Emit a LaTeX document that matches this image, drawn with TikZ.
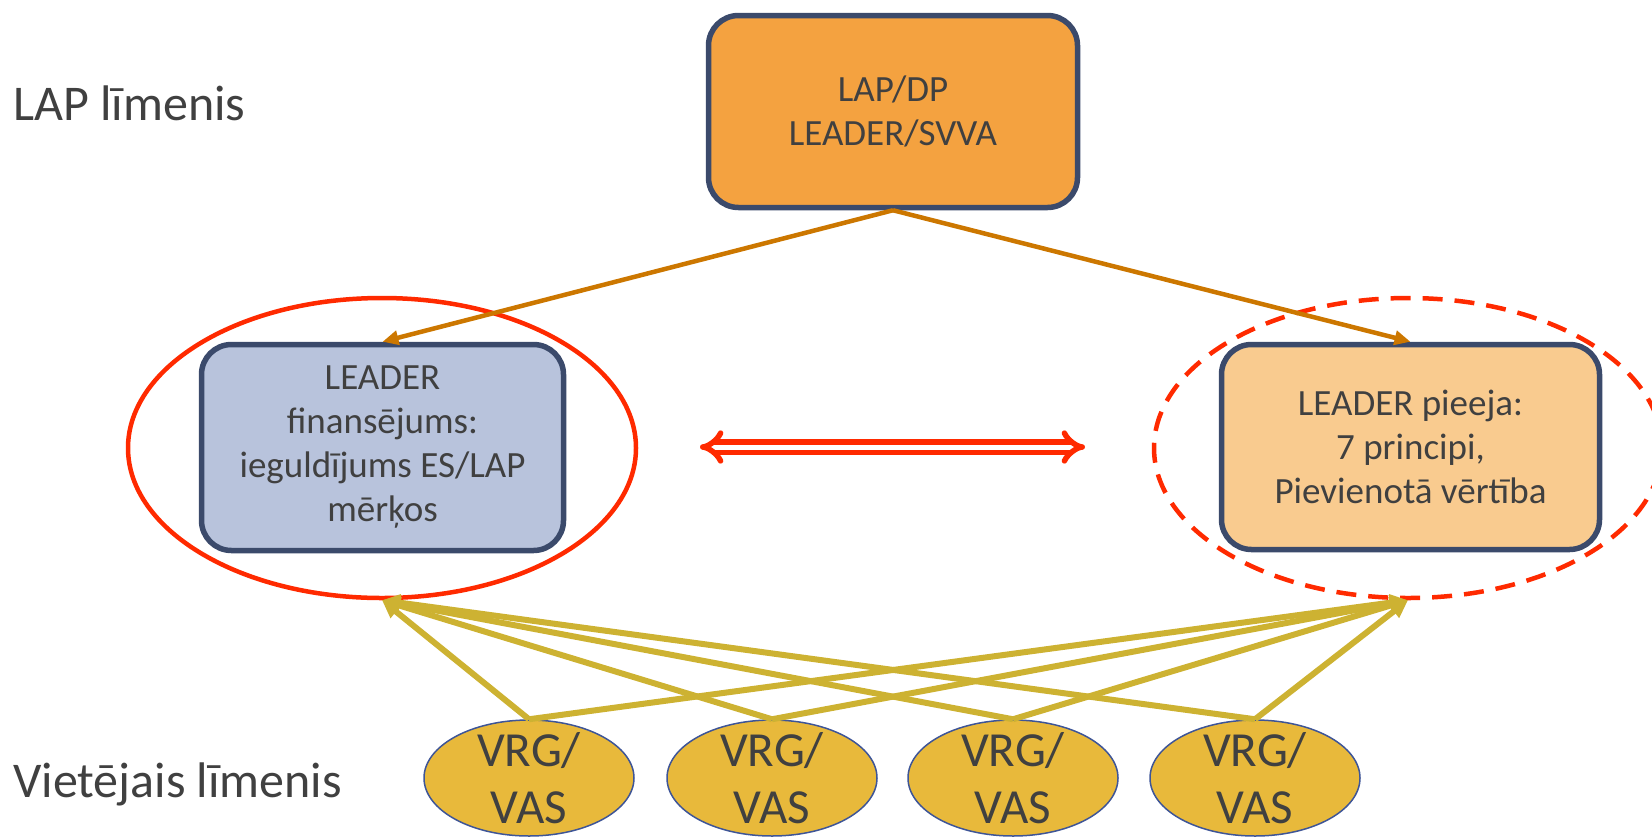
\documentclass[tikz,border=0pt]{standalone}
\usepackage{fontspec}
\setmainfont{Carlito}
\usetikzlibrary{shapes.geometric,arrows.meta}

\definecolor{lapOrange}{HTML}{F4A240}
\definecolor{fundBlue}{HTML}{B8C3DC}
\definecolor{apprPeach}{HTML}{F9CB8F}
\definecolor{boxLine}{HTML}{3B4A6B}
\definecolor{ringRed}{HTML}{FF2A00}
\definecolor{arrowOrange}{HTML}{CC7700}
\definecolor{arrowGold}{HTML}{CDB232}
\definecolor{vrgGold}{HTML}{E8B93B}
\definecolor{vrgLine}{HTML}{3E5597}
\definecolor{textGray}{HTML}{404040}

\begin{document}
\begin{tikzpicture}
[x=1pt,y=-1pt,
  boxDecorate/.style={shape=rectangle,rounded corners=30pt,draw=boxLine,line width=5.5pt,
    text=textGray,align=center,inner sep=0pt,font=\fontsize{37}{44}\selectfont},%
  ringDecorate/.style={shape=ellipse,minimum width=508pt,minimum height=300pt,
    draw=ringRed,line width=4.5pt,inner sep=0pt},%
  vrgDecorate/.style={shape=ellipse,minimum width=210pt,minimum height=116pt,
    draw=vrgLine,line width=1.5pt,fill=vrgGold,inner sep=0pt},%
  vrgText/.style={text=textGray,align=center,inner sep=0pt,font=\fontsize{49}{57}\selectfont},%
  levelText/.style={anchor=base west,text=textGray,inner sep=0pt,font=\fontsize{50}{60}\selectfont},%
  downArrow/.style={-{Triangle[length=16pt,width=14pt]},draw=arrowOrange,line width=4.5pt},%
  upArrow/.style={-{Triangle[length=18pt,width=16pt]},draw=arrowGold,line width=6pt},%
  swapArrow/.style={{Implies[length=12pt,width=30pt]}-{Implies[length=12pt,width=30pt]},
    draw=ringRed,line width=5.5pt,double=white,double distance=5pt}]
\useasboundingbox (0,0) rectangle (1652,839);

%% level labels
\node (lapLevel) at (13,120) [levelText] {LAP līmenis};
\node (localLevel) at (13,797) [levelText] {Vietējais līmenis};

%% rings round the two middle boxes
\node (lring) at (382,448) [ringDecorate] {};
\node (rring) at (1408,448) [ringDecorate,dash pattern=on 20pt off 12pt] {};

%% boxes
\node (lap) at (893,111.5) [boxDecorate,fill=lapOrange,minimum width=369pt,minimum height=192pt]
  {LAP/DP\\LEADER/SVVA};
\node (fund) at (382.5,447.5) [boxDecorate,fill=fundBlue,minimum width=362pt,minimum height=206pt]
  {LEADER\\finansējums:\\ieguldījums ES/LAP\\mērķos};
\node (appr) at (1410.5,447) [boxDecorate,fill=apprPeach,minimum width=378pt,minimum height=205pt]
  {LEADER pieeja:\\7 principi,\\Pievienotā vērtība};

%% local groups
\foreach \nodename/\x in {vrgA/529, vrgB/772, vrgC/1013, vrgD/1255}
{
  \node (\nodename) at (\x,778) [vrgDecorate,label={[vrgText]center:VRG/\\VAS}] {};
}

%% arrows
\foreach \boxname in {fund, appr}
  \draw[downArrow] (lap.south) -- (\boxname.north);
\path
\foreach \startnode in {vrgA, vrgB, vrgC, vrgD}
{
  (\startnode.north) edge[upArrow] (lring.south)
  (\startnode.north) edge[upArrow] (rring.south)
};
\coordinate (swapL) at (700,447);
\coordinate (swapR) at (1085,447);
\draw[swapArrow] (swapL) -- (swapR);
\end{tikzpicture}
\end{document}
